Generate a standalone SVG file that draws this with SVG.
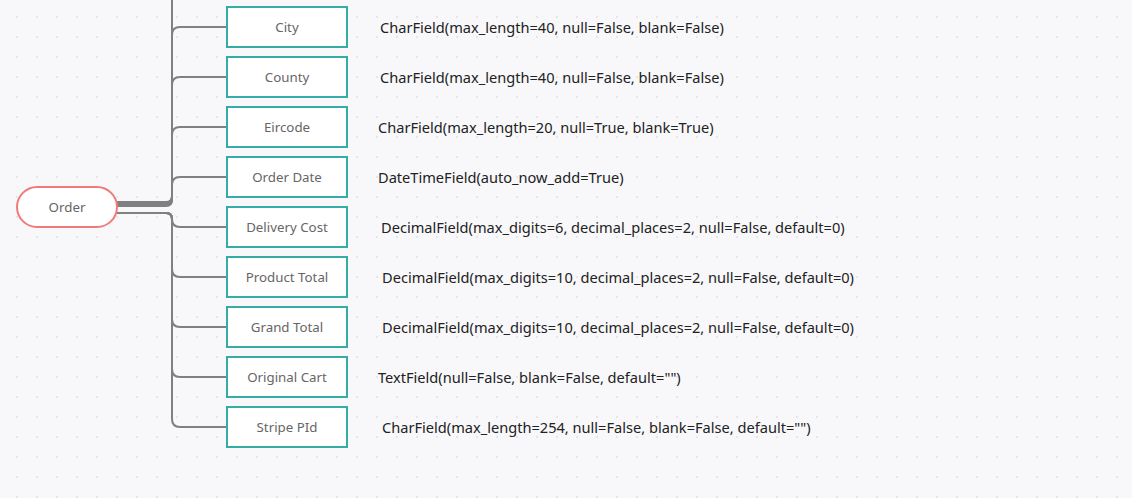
<svg xmlns="http://www.w3.org/2000/svg" width="1132" height="498" viewBox="0 0 1132 498">
<defs>
<pattern id="dots" x="0" y="0" width="20" height="20" patternUnits="userSpaceOnUse">
<circle cx="17" cy="17" r="1.1" fill="#e2e2e6"/>
</pattern>
<style>
.box{fill:#ffffff;stroke:#35aca6;stroke-width:2}
.lbl{font-family:"Noto Sans","Open Sans",sans-serif;font-size:13.3px;fill:#666666;text-anchor:middle}
.fld{font-family:"Noto Sans","Open Sans",sans-serif;font-size:14.6px;fill:#222222}
.ln{fill:none;stroke:#808080;stroke-width:2}
</style>
</defs>
<rect width="1132" height="498" fill="#f8f8fa"/>
<rect width="1132" height="498" fill="url(#dots)"/>
<g id="connectors">
<path class="ln" d="M117,202 H166 Q172,202 172,196 V-92 Q172,-100 180,-100 H227"/>
<path class="ln" d="M117,203 H166 Q172,203 172,197 V-42 Q172,-50 180,-50 H227"/>
<path class="ln" d="M117,203 H166 Q172,203 172,197 V35 Q172,27 180,27 H227"/>
<path class="ln" d="M117,204 H166 Q172,204 172,198 V85 Q172,77 180,77 H227"/>
<path class="ln" d="M117,205 H166 Q172,205 172,199 V135 Q172,127 180,127 H227"/>
<path class="ln" d="M117,206 H166 Q172,206 172,200 V185 Q172,177 180,177 H227"/>
<path class="ln" d="M117,213 H166 Q172,213 172,219 V219 Q172,227 180,227 H227"/>
<path class="ln" d="M117,213 H166 Q172,213 172,219 V269 Q172,277 180,277 H227"/>
<path class="ln" d="M117,213 H166 Q172,213 172,219 V319 Q172,327 180,327 H227"/>
<path class="ln" d="M117,213 H166 Q172,213 172,219 V369 Q172,377 180,377 H227"/>
<path class="ln" d="M117,213 H166 Q172,213 172,219 V419 Q172,427 180,427 H227"/>
</g>
<g id="order">
<rect x="17" y="187" width="100" height="40" rx="20" ry="20" fill="#ffffff" stroke="#f07a7a" stroke-width="2"/>
<text class="lbl" x="67" y="211.5">Order</text>
</g>
<g id="city"><rect class="box" x="227" y="7" width="120" height="40"/><text class="lbl" x="287" y="31.5">City</text></g>
<g id="county"><rect class="box" x="227" y="57" width="120" height="40"/><text class="lbl" x="287" y="81.5">County</text></g>
<g id="eircode"><rect class="box" x="227" y="107" width="120" height="40"/><text class="lbl" x="287" y="131.5">Eircode</text></g>
<g id="order-date"><rect class="box" x="227" y="157" width="120" height="40"/><text class="lbl" x="287" y="181.5">Order Date</text></g>
<g id="delivery-cost"><rect class="box" x="227" y="207" width="120" height="40"/><text class="lbl" x="287" y="231.5">Delivery Cost</text></g>
<g id="product-total"><rect class="box" x="227" y="257" width="120" height="40"/><text class="lbl" x="287" y="281.5">Product Total</text></g>
<g id="grand-total"><rect class="box" x="227" y="307" width="120" height="40"/><text class="lbl" x="287" y="331.5">Grand Total</text></g>
<g id="original-cart"><rect class="box" x="227" y="357" width="120" height="40"/><text class="lbl" x="287" y="381.5">Original Cart</text></g>
<g id="stripe-pid"><rect class="box" x="227" y="407" width="120" height="40"/><text class="lbl" x="287" y="431.5">Stripe PId</text></g>
<g id="fields">
<text class="fld" x="380" y="32.5">CharField(max_length=40, null=False, blank=False)</text>
<text class="fld" x="380" y="82.5">CharField(max_length=40, null=False, blank=False)</text>
<text class="fld" x="378" y="132.5">CharField(max_length=20, null=True, blank=True)</text>
<text class="fld" x="378" y="182.5">DateTimeField(auto_now_add=True)</text>
<text class="fld" x="381" y="232.5">DecimalField(max_digits=6, decimal_places=2, null=False, default=0)</text>
<text class="fld" x="382" y="282.5">DecimalField(max_digits=10, decimal_places=2, null=False, default=0)</text>
<text class="fld" x="382" y="332.5">DecimalField(max_digits=10, decimal_places=2, null=False, default=0)</text>
<text class="fld" x="378" y="382.5">TextField(null=False, blank=False, default="")</text>
<text class="fld" x="382" y="432.5">CharField(max_length=254, null=False, blank=False, default="")</text>
</g>
</svg>
